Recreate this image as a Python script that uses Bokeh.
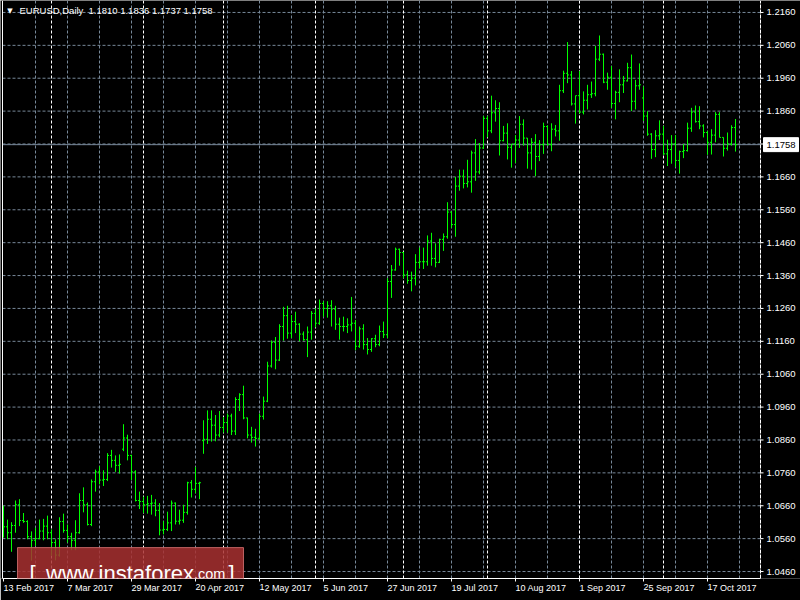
import pandas as pd
from bokeh.plotting import figure
from bokeh.core.properties import value
from bokeh.models import (ColumnDataSource, Range1d, LinearAxis, FixedTicker,
                          Label, BoxAnnotation)
from bokeh.embed import file_html
from bokeh.resources import INLINE

symbol = "EURUSD,Daily"
dates = pd.bdate_range("2017-02-13", "2017-10-26")

opens = [
    1.0640, 1.0596, 1.0578, 1.0600, 1.0663, 1.0615, 1.0612, 1.0566, 1.0555, 1.0560,
    1.0583, 1.0598, 1.0578, 1.0548, 1.0510, 1.0612, 1.0585, 1.0566, 1.0555, 1.0578,
    1.0676, 1.0663, 1.0603, 1.0733, 1.0763, 1.0738, 1.0740, 1.0813, 1.0798, 1.0783,
    1.0832, 1.0866, 1.0813, 1.0763, 1.0676, 1.0673, 1.0663, 1.0666, 1.0668, 1.0646,
    1.0586, 1.0588, 1.0608, 1.0668, 1.0613, 1.0616, 1.0640, 1.0730, 1.0710, 1.0728,
    1.0858, 1.0862, 1.0923, 1.0905, 1.0875, 1.0898, 1.0913, 1.0933, 1.0887, 1.0983,
    1.0998, 1.0927, 1.0875, 1.0868, 1.0865, 1.0932, 1.0978, 1.1085, 1.1157, 1.1103,
    1.1205, 1.1238, 1.1185, 1.1220, 1.1212, 1.1182, 1.1165, 1.1188, 1.1245, 1.1215,
    1.1275, 1.1260, 1.1268, 1.1258, 1.1212, 1.1205, 1.1205, 1.1210, 1.1215, 1.1145,
    1.1198, 1.1150, 1.1135, 1.1168, 1.1150, 1.1190, 1.1180, 1.1342, 1.1377, 1.1440,
    1.1430, 1.1362, 1.1345, 1.1352, 1.1400, 1.1402, 1.1402, 1.1465, 1.1412, 1.1400,
    1.1470, 1.1478, 1.1553, 1.1515, 1.1632, 1.1662, 1.1640, 1.1645, 1.1733, 1.1675,
    1.1748, 1.1838, 1.1800, 1.1855, 1.1868, 1.1770, 1.1793, 1.1750, 1.1760, 1.1772,
    1.1820, 1.1778, 1.1733, 1.1765, 1.1722, 1.1758, 1.1813, 1.1758, 1.1805, 1.1800,
    1.1922, 1.1975, 1.1970, 1.1882, 1.1907, 1.1857, 1.1893, 1.1910, 1.1913, 1.2018,
    1.2033, 1.1948, 1.1963, 1.1883, 1.1917, 1.1940, 1.1952, 1.1992, 1.1890, 1.1937,
    1.1900, 1.1845, 1.1790, 1.1743, 1.1785, 1.1790, 1.1730, 1.1743, 1.1760, 1.1710,
    1.1737, 1.1740, 1.1808, 1.1857, 1.1828, 1.1815, 1.1795, 1.1765, 1.1787, 1.1850,
    1.1780, 1.1747, 1.1760, 1.1810,
]
highs = [
    1.0660, 1.0618, 1.0610, 1.0676, 1.0680, 1.0638, 1.0616, 1.0582, 1.0593, 1.0618,
    1.0620, 1.0630, 1.0588, 1.0558, 1.0625, 1.0636, 1.0603, 1.0578, 1.0616, 1.0698,
    1.0716, 1.0670, 1.0740, 1.0770, 1.0780, 1.0768, 1.0820, 1.0830, 1.0813, 1.0816,
    1.0908, 1.0876, 1.0815, 1.0768, 1.0703, 1.0688, 1.0690, 1.0693, 1.0680, 1.0668,
    1.0613, 1.0642, 1.0676, 1.0670, 1.0648, 1.0663, 1.0733, 1.0738, 1.0778, 1.0733,
    1.0920, 1.0950, 1.0950, 1.0936, 1.0948, 1.0930, 1.0940, 1.0940, 1.0990, 1.1002,
    1.1025, 1.0928, 1.0900, 1.0894, 1.0940, 1.0992, 1.1098, 1.1163, 1.1173, 1.1212,
    1.1265, 1.1268, 1.1240, 1.1250, 1.1215, 1.1190, 1.1205, 1.1252, 1.1260, 1.1287,
    1.1282, 1.1282, 1.1285, 1.1268, 1.1232, 1.1235, 1.1230, 1.1295, 1.1225, 1.1205,
    1.1212, 1.1170, 1.1170, 1.1180, 1.1208, 1.1220, 1.1352, 1.1392, 1.1445, 1.1442,
    1.1432, 1.1375, 1.1372, 1.1425, 1.1445, 1.1445, 1.1482, 1.1490, 1.1458, 1.1472,
    1.1488, 1.1583, 1.1555, 1.1660, 1.1682, 1.1682, 1.1712, 1.1740, 1.1775, 1.1763,
    1.1845, 1.1845, 1.1907, 1.1893, 1.1887, 1.1815, 1.1823, 1.1760, 1.1787, 1.1845,
    1.1835, 1.1778, 1.1778, 1.1790, 1.1772, 1.1825, 1.1817, 1.1823, 1.1818, 1.1940,
    1.1983, 1.2070, 1.1982, 1.1907, 1.1982, 1.1920, 1.1940, 1.1950, 1.2058, 1.2090,
    1.2035, 1.1977, 1.1997, 1.1922, 1.1987, 1.1967, 1.2007, 1.2032, 1.1955, 1.2005,
    1.1935, 1.1860, 1.1793, 1.1802, 1.1832, 1.1815, 1.1773, 1.1787, 1.1787, 1.1740,
    1.1760, 1.1825, 1.1870, 1.1877, 1.1875, 1.1820, 1.1800, 1.1805, 1.1857, 1.1857,
    1.1780, 1.1795, 1.1817, 1.1836,
]
lows = [
    1.0563, 1.0558, 1.0520, 1.0578, 1.0598, 1.0608, 1.0558, 1.0493, 1.0538, 1.0558,
    1.0555, 1.0558, 1.0508, 1.0494, 1.0505, 1.0578, 1.0548, 1.0525, 1.0525, 1.0575,
    1.0640, 1.0600, 1.0598, 1.0703, 1.0725, 1.0720, 1.0735, 1.0776, 1.0763, 1.0758,
    1.0826, 1.0798, 1.0738, 1.0673, 1.0650, 1.0638, 1.0636, 1.0633, 1.0628, 1.0570,
    1.0573, 1.0583, 1.0583, 1.0603, 1.0603, 1.0608, 1.0633, 1.0685, 1.0698, 1.0680,
    1.0818, 1.0848, 1.0855, 1.0856, 1.0868, 1.0882, 1.0882, 1.0875, 1.0875, 1.0948,
    1.0923, 1.0865, 1.0852, 1.0840, 1.0860, 1.0922, 1.0975, 1.1080, 1.1075, 1.1100,
    1.1162, 1.1168, 1.1170, 1.1185, 1.1160, 1.1162, 1.1112, 1.1165, 1.1202, 1.1210,
    1.1235, 1.1232, 1.1205, 1.1195, 1.1165, 1.1190, 1.1185, 1.1190, 1.1133, 1.1140,
    1.1135, 1.1120, 1.1128, 1.1142, 1.1145, 1.1170, 1.1170, 1.1292, 1.1375, 1.1390,
    1.1352, 1.1335, 1.1312, 1.1330, 1.1382, 1.1380, 1.1390, 1.1390, 1.1385, 1.1398,
    1.1435, 1.1472, 1.1505, 1.1478, 1.1618, 1.1625, 1.1628, 1.1612, 1.1648, 1.1668,
    1.1745, 1.1780, 1.1793, 1.1828, 1.1725, 1.1768, 1.1713, 1.1688, 1.1702, 1.1748,
    1.1755, 1.1685, 1.1682, 1.1662, 1.1708, 1.1730, 1.1755, 1.1738, 1.1783, 1.1770,
    1.1915, 1.1945, 1.1877, 1.1822, 1.1853, 1.1850, 1.1865, 1.1900, 1.1905, 1.2012,
    1.1945, 1.1925, 1.1870, 1.1835, 1.1887, 1.1915, 1.1950, 1.1860, 1.1865, 1.1925,
    1.1830, 1.1785, 1.1715, 1.1720, 1.1772, 1.1727, 1.1693, 1.1700, 1.1690, 1.1670,
    1.1717, 1.1737, 1.1797, 1.1825, 1.1805, 1.1780, 1.1727, 1.1728, 1.1765, 1.1780,
    1.1722, 1.1740, 1.1755, 1.1737,
]
closes = [
    1.0596, 1.0578, 1.0600, 1.0663, 1.0615, 1.0612, 1.0566, 1.0555, 1.0560, 1.0583,
    1.0598, 1.0578, 1.0548, 1.0510, 1.0612, 1.0585, 1.0566, 1.0555, 1.0578, 1.0676,
    1.0663, 1.0603, 1.0733, 1.0763, 1.0738, 1.0740, 1.0813, 1.0798, 1.0783, 1.0786,
    1.0866, 1.0813, 1.0763, 1.0676, 1.0673, 1.0663, 1.0666, 1.0668, 1.0646, 1.0586,
    1.0588, 1.0608, 1.0668, 1.0613, 1.0616, 1.0640, 1.0730, 1.0710, 1.0728, 1.0730,
    1.0862, 1.0923, 1.0905, 1.0875, 1.0898, 1.0913, 1.0933, 1.0887, 1.0983, 1.0998,
    1.0927, 1.0875, 1.0868, 1.0865, 1.0932, 1.0978, 1.1085, 1.1157, 1.1103, 1.1205,
    1.1238, 1.1185, 1.1220, 1.1212, 1.1182, 1.1165, 1.1188, 1.1245, 1.1215, 1.1275,
    1.1260, 1.1268, 1.1258, 1.1212, 1.1205, 1.1205, 1.1210, 1.1215, 1.1145, 1.1198,
    1.1150, 1.1135, 1.1168, 1.1150, 1.1190, 1.1180, 1.1342, 1.1377, 1.1440, 1.1430,
    1.1362, 1.1345, 1.1352, 1.1400, 1.1402, 1.1402, 1.1465, 1.1412, 1.1400, 1.1470,
    1.1478, 1.1553, 1.1515, 1.1632, 1.1662, 1.1640, 1.1645, 1.1733, 1.1675, 1.1748,
    1.1838, 1.1800, 1.1855, 1.1868, 1.1770, 1.1793, 1.1750, 1.1760, 1.1772, 1.1820,
    1.1778, 1.1733, 1.1765, 1.1722, 1.1758, 1.1813, 1.1758, 1.1805, 1.1800, 1.1922,
    1.1975, 1.1970, 1.1882, 1.1907, 1.1857, 1.1893, 1.1910, 1.1913, 1.2018, 1.2033,
    1.1948, 1.1963, 1.1883, 1.1917, 1.1940, 1.1952, 1.1992, 1.1890, 1.1937, 1.1940,
    1.1845, 1.1790, 1.1743, 1.1785, 1.1790, 1.1730, 1.1743, 1.1760, 1.1710, 1.1737,
    1.1740, 1.1808, 1.1857, 1.1828, 1.1815, 1.1795, 1.1765, 1.1787, 1.1850, 1.1780,
    1.1747, 1.1760, 1.1810, 1.1758,
]

price_ticks = [1.0460, 1.0560, 1.0660, 1.0760, 1.0860, 1.0960, 1.1060, 1.1160, 1.1260,
               1.1360, 1.1460, 1.1560, 1.1660, 1.1760, 1.1860, 1.1960, 1.2060, 1.2160]
price_tick_labels = ["%.4f" % t for t in price_ticks]
x_tick_pos = [0, 16, 32, 48, 64, 80, 96, 112, 128, 144, 160, 176]
x_tick_labels = ["13 Feb 2017", "7 Mar 2017", "29 Mar 2017", "20 Apr 2017",
                 "12 May 2017", "5 Jun 2017", "27 Jun 2017", "19 Jul 2017",
                 "10 Aug 2017", "1 Sep 2017", "25 Sep 2017", "17 Oct 2017"]
grid_x = [8 * k for k in range(1, 24)]

n = len(opens)
assert n == len(highs) == len(lows) == len(closes) == len(dates)
idx = list(range(n))
month_starts = [i for i in range(1, n) if dates[i].month != dates[i - 1].month]

# ---------------- layout constants (pixels -> data) ----------------
W, H, BOTTOM_PANEL = 800, 600, 20
FRAME_H = H - BOTTOM_PANEL
BAR_PX, BAR0_PX = 4.0, 3.0          # bar spacing / first bar centre
Y_PX_PER_UNIT, TOP_TICK_PX = 3300.0, 12.0

def xd(px):
    return (px - BAR0_PX) / BAR_PX

def yd(px):
    return price_ticks[-1] + (TOP_TICK_PX - px) / Y_PX_PER_UNIT

def dy(px):
    return px / Y_PX_PER_UNIT

FONT = "Liberation Sans"
GREEN = "#00ff00"
GRID = "#778899"

chart_l, chart_r = xd(2.0), xd(760.0)
y_top, y_bot = yd(0), yd(FRAME_H)

p = figure(width=W, height=H, output_backend="svg", toolbar_location=None,
           x_range=Range1d(xd(0), xd(W)), y_range=Range1d(y_bot, y_top),
           x_axis_type=None, y_axis_type=None,
           background_fill_color="black", border_fill_color="black",
           min_border_left=0, min_border_top=0, min_border_right=0,
           min_border_bottom=BOTTOM_PANEL)
p.outline_line_color = None

# grid
p.segment(x0=chart_l, x1=chart_r, y0=price_ticks, y1=price_ticks,
          line_color=GRID, line_dash="3 2", line_width=1)
p.segment(x0=grid_x, x1=grid_x, y0=y_bot, y1=y_top,
          line_color=GRID, line_dash="3 2", line_width=1)
# monthly period separators
p.segment(x0=month_starts, x1=month_starts, y0=y_bot, y1=y_top,
          line_color="white", line_dash="3 2", line_width=1)
# bid line
p.segment(x0=chart_l, x1=chart_r, y0=closes[-1], y1=closes[-1],
          line_color=GRID, line_width=1)

# OHLC bars
src = ColumnDataSource(dict(
    x=idx, xo=[i - 0.375 for i in idx], xc=[i + 0.375 for i in idx],
    o=opens, h=highs, l=lows, c=closes))
p.segment(x0="x", y0="l", x1="x", y1="h", source=src, line_color=GREEN, line_width=1)
p.segment(x0="xo", y0="o", x1="x", y1="o", source=src, line_color=GREEN, line_width=1)
p.segment(x0="x", y0="c", x1="xc", y1="c", source=src, line_color=GREEN, line_width=1)

# frame borders
p.segment(x0=[chart_l], x1=[chart_l], y0=y_bot, y1=y_top,
          line_color="white", line_width=1)
p.segment(x0=[chart_r], x1=[chart_r], y0=y_bot, y1=y_top,
          line_color="white", line_width=1, line_dash="4 1")

# price scale (right)
p.segment(x0=chart_r, x1=xd(763.0), y0=price_ticks, y1=price_ticks,
          line_color="white", line_width=1)
p.text(x=xd(766), y=price_ticks, text=price_tick_labels, text_font=value(FONT),
       text_font_size="9.5px", text_color="white", text_align="left",
       text_baseline="middle")
p.quad(left=xd(763), right=xd(798), top=closes[-1] + dy(7), bottom=closes[-1] - dy(7),
       fill_color="white", line_color="white")
p.text(x=xd(766), y=[closes[-1]], text=["%.4f" % closes[-1]], text_font=value(FONT),
       text_font_size="9.5px", text_color="black", text_align="left",
       text_baseline="middle")

# header
p.text(x=xd(9.5), y=yd(10.5), text=["\u25bc"], text_font=value("DejaVu Sans"),
       text_font_size="7px", text_color="white", text_align="center",
       text_baseline="middle")
p.text(x=xd(19), y=yd(10.5), text=[symbol], text_font=value(FONT),
       text_font_size="9.5px", text_color="white", text_align="left",
       text_baseline="middle")
p.text(x=xd(88), y=yd(10.5),
       text=["%.4f %.4f %.4f %.4f" % (opens[-1], highs[-1], lows[-1], closes[-1])],
       text_font=value(FONT), text_font_size="9.5px", text_color="white",
       text_align="left", text_baseline="middle")

# time axis (real axis, labels left-aligned at the tick)
xaxis = LinearAxis(ticker=FixedTicker(ticks=x_tick_pos), bounds=(chart_l, chart_r),
                   major_label_overrides=dict(zip(x_tick_pos, x_tick_labels)),
                   major_label_orientation=-0.0001)
xaxis.axis_line_color = "white"
xaxis.major_tick_line_color = "white"
xaxis.minor_tick_line_color = None
xaxis.major_tick_in = 0
xaxis.major_tick_out = 3
xaxis.major_label_standoff = 6
xaxis.major_label_text_color = "white"
xaxis.major_label_text_font = FONT
xaxis.major_label_text_font_size = "9px"
p.add_layout(xaxis, "below")

# watermark
p.add_layout(BoxAnnotation(left=xd(17), right=xd(243), top=yd(549), bottom=yd(587),
                           fill_color="#a83030", fill_alpha=0.85,
                           line_color="#c86868", line_alpha=0.9, line_width=1))
for txt, px, size in [("[", 29, "22px"), ("www.instaforex", 45.5, "22px"),
                      (".com", 193.5, "14.5px"), ("]", 228, "22px")]:
    p.add_layout(Label(x=xd(px), y=yd(575), text=txt, text_align="left",
                       text_baseline="alphabetic", text_font=FONT,
                       text_font_size=size, text_color="white"))

open("out.html", "w").write(file_html(p, INLINE))
